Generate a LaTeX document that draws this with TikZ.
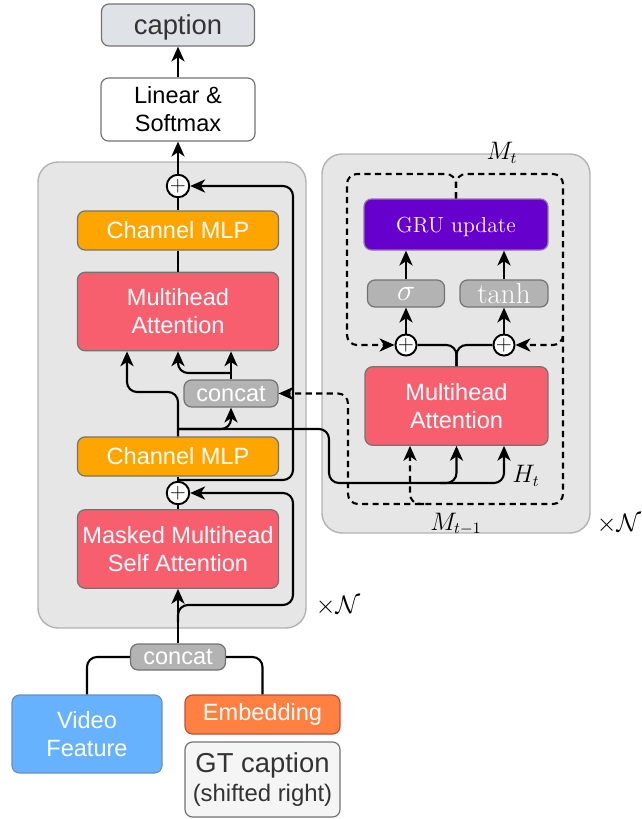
\documentclass[tikz,border=0pt]{standalone}
\usepackage{fontspec}
\newfontfamily\helv{Liberation Sans}
\usetikzlibrary{arrows.meta}
\definecolor{panelfill}{HTML}{E6E6E6}
\definecolor{paneldraw}{HTML}{B3B3B3}
\definecolor{mlporange}{HTML}{FFA500}
\definecolor{attred}{HTML}{F85F6E}
\definecolor{catgray}{HTML}{B3B3B3}
\definecolor{grupurple}{HTML}{6600CC}
\definecolor{gruborder}{HTML}{9673A6}
\definecolor{vidblue}{HTML}{66B2FF}
\definecolor{vidborder}{HTML}{6C8EBF}
\definecolor{embred}{HTML}{FF8040}
\definecolor{embborder}{HTML}{C0503A}
\definecolor{capgray}{HTML}{DFE3E8}
\definecolor{gtgray}{HTML}{F5F5F5}
\definecolor{txtdark}{HTML}{333333}
\begin{document}
\begin{tikzpicture}[x=0.02cm, y=-0.02cm,
    box/.style={draw=black!55, line width=0.7pt, rounded corners=0.15cm, align=center, inner sep=0pt,
        text=white, font=\helv\fontsize{13.4}{16}\selectfont},
    mlp/.style={box, fill=mlporange, minimum width=4.02cm, minimum height=0.78cm},
    att/.style={box, fill=attred, minimum width=4.02cm, minimum height=1.57cm},
    gate/.style={box, fill=catgray, minimum height=0.54cm},
    plus/.style={circle, draw, fill=white, line width=1.1pt, inner sep=0pt, minimum size=0.45cm,
        font=\fontsize{12.5}{12.5}\selectfont},
    wire/.style={line width=1.2pt, rounded corners=0.2cm},
    arr/.style={wire, -{Stealth[length=8.5pt,width=7.5pt,inset=2.5pt]}},
    darr/.style={arr, dash pattern=on 3.5pt off 2.5pt},
    lab/.style={font=\fontsize{13.5}{16}\selectfont}
]
    \useasboundingbox (0,0) rectangle (642,819);
    \draw[fill=panelfill, draw=paneldraw, line width=0.8pt, rounded corners=0.4cm] (38,162) rectangle (306,628);
    \draw[fill=panelfill, draw=paneldraw, line width=0.8pt, rounded corners=0.4cm] (322,154) rectangle (590,533);

    \node[box, fill=capgray, text=txtdark, minimum width=3.06cm, minimum height=0.84cm, text depth=0pt,
        font=\helv\fontsize{15.6}{17}\selectfont] (caption) at (178,25) {caption};
    \node[box, fill=white, text=black, minimum width=3.08cm, minimum height=1.26cm] (linsoft) at (178,109.5) {Linear \&\\Softmax};
    \node[plus] (add1) at (178,186) {$+$};
    \node[mlp] (mlp1) at (178,230.5) {Channel MLP};
    \node[att] (att1) at (178,311.5) {Multihead\\Attention};
    \node[gate, minimum width=1.88cm] (cat1) at (231,393.5) {concat};
    \node[mlp] (mlp2) at (178,456.5) {Channel MLP};
    \node[plus] (add2) at (178,493) {$+$};
    \node[att] (msa) at (178,549) {Masked Multihead\\Self Attention};
    \node[gate, minimum width=1.9cm, minimum height=0.52cm] (cat0) at (178,657) {concat};
    \node[box, fill=vidblue, draw=vidborder, minimum width=3cm, minimum height=1.56cm] (video) at (87,734) {Video\\Feature};
    \node[box, fill=embred, draw=embborder, minimum width=3.1cm, minimum height=0.78cm] (emb) at (262.5,714.5) {Embedding};
    \node[box, fill=gtgray, text=txtdark, minimum width=3.1cm, minimum height=1.5cm,
        font=\helv\fontsize{15.6}{16.5}\selectfont] (gt) at (262.5,779.5) {GT caption\\{\fontsize{13.6}{16}\selectfont(shifted right)}};

    \node[att, minimum width=3.66cm] (att2) at (456.5,406) {Multihead\\Attention};
    \node[plus, minimum size=0.41cm] (addL) at (406,345) {$+$};
    \node[plus, minimum size=0.41cm] (addR) at (504,345) {$+$};
    \node[gate, minimum width=1.54cm, font=\fontsize{16.5}{16.5}\selectfont] (sig) at (406,293.5) {$\sigma$};
    \node[gate, minimum width=1.76cm, font=\fontsize{16.5}{16.5}\selectfont] (tanh) at (504,293.5) {$\tanh$};
    \node[box, fill=grupurple, draw=gruborder, minimum width=3.68cm, minimum height=1.02cm, text depth=0pt,
        font=\rmfamily\fontsize{12.4}{14}\selectfont] (gru) at (456,224.5) {GRU update};

    \node[lab] (mtlab) at (502,153) {$M_t$};
    \node[lab] (mprev) at (456,524) {$M_{t-1}$};
    \node[lab] (htlab) at (526,476) {$H_t$};
    \node[lab] (nleft) at (338,606) {$\times\mathcal{N}$};
    \node[lab] (nright) at (619,524) {$\times\mathcal{N}$};

    \coordinate (j0) at (178,622);
    \coordinate (j1) at (178,480);
    \coordinate (h) at (178,429);
    \coordinate (q) at (127,392);
    \coordinate (k) at (231,373);
    \coordinate (ht) at (440,483);
    \coordinate (mk) at (410,504);

    \draw[arr] (linsoft) -- (caption);
    \draw[arr] (add1) -- (linsoft);
    \draw[wire] (att1) -- (mlp1) -- (add1);
    \draw[arr] (cat0) -- (msa);
    \draw[wire] (msa) -- (add2) -- (mlp2);
    \draw[wire] (cat0.west) -| (video.north);
    \draw[wire] (cat0.east) -| (emb.north);
    \draw[arr] (j1) -- (293,480) |- (add1);
    \draw[arr] (j0) |- (293,605) |- (add2);
    \draw[arr] (mlp2.north) |- (q) -- (q |- att1.south);
    \draw[arr] (cat1) -- (cat1 |- att1.south);
    \draw[arr] (k) -| (att1.south);
    \draw[arr] (h) -| (cat1.south);
    \draw[arr] (h) -| (329,483) -| (att2.south);
    \draw[arr] (ht) -| (att2.south -| addR);

    \draw[wire] (att2.north) |- (addL);
    \draw[wire] (att2.north) |- (addR);
    \draw[arr] (addL) -- (sig);
    \draw[arr] (sig) -- (sig |- gru.south);
    \draw[arr] (addR) -- (tanh);
    \draw[arr] (tanh) -- (tanh |- gru.south);

    \draw[darr] (gru.north) |- (347,174) |- (addL);
    \draw[darr] (gru.north) |- (563,174) |- (addR);
    \draw[darr] (563,336) |- (348,504) |- (cat1);
    \draw[darr] (424,504) -| (mk |- att2.south);
\end{tikzpicture}
\end{document}
